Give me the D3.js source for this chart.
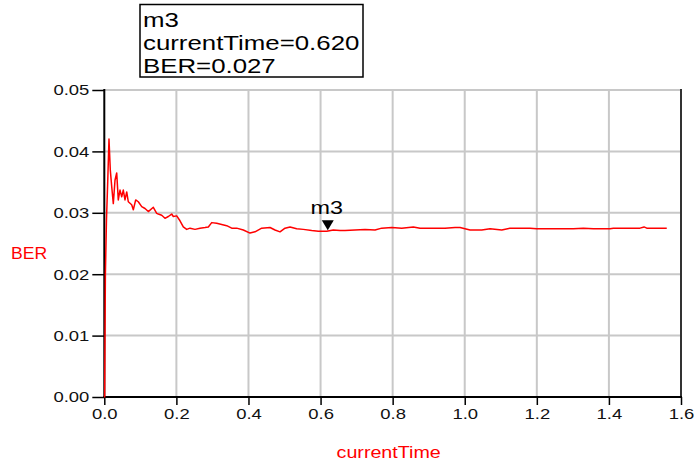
<!DOCTYPE html>
<html><head><meta charset="utf-8">
<script src="https://cdn.jsdelivr.net/npm/d3@7/dist/d3.min.js"></script>
<style>body{margin:0;background:#fff}svg{display:block}text{font-family:"Liberation Sans",Arial,sans-serif}</style>
</head><body><svg id="c" width="694" height="463"></svg>
<script>
// ---- data ----
const timeValues = [0,0.001,0.003,0.006,0.0095,0.013,0.0166,0.0205,0.025,0.0297,0.0344,0.0388,0.0436,0.0483,0.0527,0.0574,0.0622,0.0666,0.076,0.0805,0.0871,0.0943,0.1038,0.1129,0.1221,0.136,0.1454,0.1498,0.1593,0.1684,0.1776,0.187,0.1915,0.2009,0.21,0.2192,0.2286,0.2378,0.2517,0.2655,0.2794,0.2886,0.298,0.3119,0.3257,0.3396,0.3535,0.3674,0.3857,0.4043,0.4181,0.4367,0.4598,0.4736,0.4875,0.5014,0.5153,0.5338,0.5522,0.5755,0.5938,0.6171,0.6354,0.654,0.6679,0.6956,0.7234,0.7511,0.7697,0.7974,0.8252,0.8574,0.876,0.9084,0.9453,0.9731,0.987,1.0147,1.0472,1.0702,1.1027,1.1257,1.1812,1.1998,1.3013,1.3291,1.3568,1.4031,1.4123,1.4864,1.4975,1.505,1.5605];
const berValues = [0,0,0.0200,0.0288,0.0351,0.0420,0.0370,0.0343,0.0315,0.0353,0.0365,0.0321,0.0337,0.0326,0.0337,0.0321,0.0334,0.0318,0.0313,0.0305,0.0321,0.0318,0.0310,0.0307,0.0302,0.0309,0.0299,0.0298,0.0296,0.0291,0.0294,0.0298,0.0294,0.0295,0.0287,0.0277,0.0273,0.0275,0.0273,0.0275,0.0276,0.0277,0.0284,0.0283,0.0281,0.0279,0.0275,0.0275,0.0272,0.0267,0.0269,0.0275,0.0276,0.0272,0.0269,0.0275,0.0277,0.0274,0.0273,0.0271,0.0270,0.0270,0.0272,0.0271,0.0271,0.0272,0.0273,0.0272,0.0275,0.0276,0.0275,0.0277,0.0275,0.0275,0.0275,0.0276,0.0276,0.0272,0.0272,0.0274,0.0272,0.0275,0.0275,0.0274,0.0274,0.0275,0.0274,0.0274,0.0275,0.0275,0.0277,0.0275,0.0275];
const xTicks = [0,0.2,0.4,0.6,0.8,1.0,1.2,1.4,1.6];
const xMinorTicks = [0.1,0.3,0.5,0.7,0.9,1.1,1.3,1.5];
const yTicks = [0,0.01,0.02,0.03,0.04,0.05];
const yMinorTicks = d3.range(0,51).map(i=>i/1000).filter(v=>Math.round(v*1000)%10!==0);
const markerName = "m3", markerTime = 0.620, markerBer = 0.027;
const xLabel = "currentTime", yLabel = "BER";

const svg = d3.select("#c");
const X0=104.3, X1=681, Y0=397, Y1=90;
const x = d3.scaleLinear().domain([0,1.6]).range([X0,X1]);
const y = d3.scaleLinear().domain([0,0.05]).range([Y0,Y1]);
const SX = 1.23;
const GRID="#c8c8c8";

// grid
svg.append("g").selectAll("line").data(xTicks.filter(v=>v>0&&v<1.6)).join("line")
  .attr("x1",d=>x(d)).attr("x2",d=>x(d)).attr("y1",Y1).attr("y2",Y0)
  .attr("stroke",GRID).attr("stroke-width",2);
svg.append("g").selectAll("line").data(yTicks.filter(v=>v>0)).join("line")
  .attr("x1",X0).attr("x2",X1).attr("y1",d=>y(d)).attr("y2",d=>y(d))
  .attr("stroke",GRID).attr("stroke-width",2);
// right border
svg.append("line").attr("x1",X1).attr("x2",X1).attr("y1",Y1-1).attr("y2",Y0).attr("stroke","#333").attr("stroke-width",2);

// axes
const gy = svg.append("g").attr("transform",`translate(${X0},0)`);
gy.call(d3.axisLeft(y).tickValues(yMinorTicks).tickSize(6).tickFormat(""));
gy.call(d3.axisLeft(y).tickValues(yTicks).tickSize(12).tickPadding(3).tickFormat(d3.format(".2f")));
const gx = svg.append("g").attr("transform",`translate(0,${Y0})`);
gx.call(d3.axisBottom(x).tickValues(xMinorTicks).tickSize(5).tickFormat(""));
gx.call(d3.axisBottom(x).tickValues(xTicks).tickSize(8).tickPadding(3).tickFormat(d3.format(".1f")));
svg.selectAll(".domain").remove();
svg.selectAll(".tick line").attr("stroke","#000").attr("stroke-width",1.5);
gy.selectAll(".tick text").attr("font-size",15).attr("fill","#111").attr("font-family","Liberation Sans, Arial")
  .attr("transform",function(){const t=d3.select(this);const xx=+t.attr("x");t.attr("x",0);return `translate(${xx},0) scale(${SX},1)`;});
gx.selectAll(".tick text").attr("font-size",15).attr("fill","#111").attr("font-family","Liberation Sans, Arial")
  .attr("transform",`scale(${SX},1)`);
svg.append("line").attr("x1",X0).attr("x2",X0).attr("y1",Y1-1).attr("y2",Y0+1).attr("stroke","#000").attr("stroke-width",2);
svg.append("line").attr("x1",X0-1).attr("x2",X1+1).attr("y1",Y0).attr("y2",Y0).attr("stroke","#000").attr("stroke-width",2);

// series
const pts = timeValues.map((t,i)=>[t,berValues[i]]);
svg.append("path").datum(pts)
  .attr("d",d3.line().x(d=>x(d[0])).y(d=>y(d[1])))
  .attr("fill","none").attr("stroke","#ff0000").attr("stroke-width",1.5).attr("stroke-linejoin","round");

// marker
const mx=x(markerTime), my=y(markerBer)-1;
svg.append("path").attr("d",`M${mx-6},${my-10}L${mx+6},${my-10}L${mx},${my}Z`).attr("fill","#000");
svg.append("text").attr("transform",`translate(${mx-1},${my-16}) scale(1.3,1)`).attr("text-anchor","middle")
  .attr("font-size",18).attr("fill","#000").text(markerName);

// axis titles
svg.append("text").attr("transform",`translate(${(X0+X1)/2-4},458) scale(${SX},1)`).attr("text-anchor","middle")
  .attr("font-size",16).attr("fill","#ff0000").text(xLabel);
svg.append("text").attr("transform",`translate(29,259) scale(1.1,1)`).attr("text-anchor","middle")
  .attr("font-size",16).attr("fill","#ff0000").text(yLabel);

// legend box
svg.append("rect").attr("x",140).attr("y",4.5).attr("width",223).attr("height",72.5)
  .attr("fill","#fff").attr("stroke","#000").attr("stroke-width",1.5);
const lines=[markerName,`${xLabel}=${markerTime.toFixed(3)}`,`${yLabel}=${markerBer.toFixed(3)}`];
svg.append("g").selectAll("text").data(lines).join("text")
  .attr("transform",(d,i)=>`translate(143,${26.7+i*23}) scale(${SX},1)`)
  .attr("font-size",21).attr("fill","#000").text(d=>d);
</script></body></html>
